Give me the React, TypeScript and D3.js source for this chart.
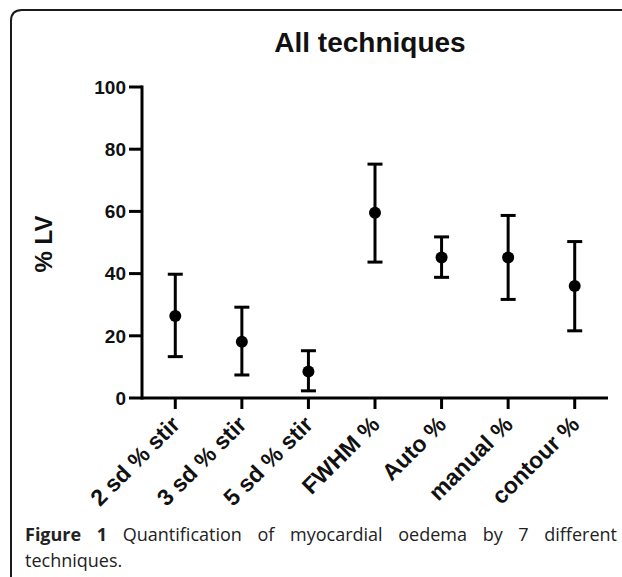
import React, { useLayoutEffect, useRef } from "react";
import * as d3 from "d3";

const categories = ["2 sd % stir", "3 sd % stir", "5 sd % stir", "FWHM %", "Auto %", "manual %", "contour %"];
const means = [26.4, 18.1, 8.5, 59.6, 45.2, 45.2, 36.0];
const upper = [39.8, 29.2, 15.2, 75.2, 51.8, 58.7, 50.3];
const lower = [13.3, 7.4, 2.3, 43.7, 38.8, 31.7, 21.6];
const yTicks = [0, 20, 40, 60, 80, 100];
const title = "All techniques";
const yLabel = "% LV";
const captionBold = "Figure 1";
const captionLine1 = " Quantification of myocardial oedema by 7 different";
const captionLine2 = "techniques.";

const W = 622;
const H = 577;

export default function App() {
  const capRef = useRef<SVGTextElement>(null);

  const x = d3.scaleBand<string>().domain(categories).range([142, 608]);
  const y = d3.scaleLinear().domain([0, 100]).range([398, 87]);
  const cx = (c: string) => (x(c) as number) + x.bandwidth() / 2;

  useLayoutEffect(() => {
    const el = capRef.current;
    if (!el) return;
    el.setAttribute("word-spacing", "0");
    const len = el.getComputedTextLength();
    const spaces = 8;
    const target = 617 - 25;
    el.setAttribute("word-spacing", String(Math.max(0, (target - len) / spaces)));
  }, []);

  const font = "'Liberation Sans', Arial, sans-serif";
  const capW = 7.5;

  return (
    <svg width={W} height={H} style={{ position: "absolute", left: 0, top: 0, background: "#fff" }}>
      <rect x={0} y={0} width={W} height={H} fill="#fff" />
      <path d="M11,580 L11,21 Q11,10 22,10 L625,10" fill="none" stroke="#1a1a1a" strokeWidth={2} />
      <text x={370} y={52} textAnchor="middle" fontFamily={font} fontWeight="bold" fontSize={28} fill="#111">
        {title}
      </text>
      {/* y axis */}
      <line x1={142} x2={142} y1={y(100) - 1.5} y2={y(0) + 1.5} stroke="#000" strokeWidth={3} />
      {yTicks.map((t) => (
        <g key={t}>
          <line x1={129} x2={142} y1={y(t)} y2={y(t)} stroke="#000" strokeWidth={3} />
          <text x={126} y={y(t)} dy="0.36em" textAnchor="end" fontFamily={font} fontWeight="bold" fontSize={19} fill="#111">
            {t}
          </text>
        </g>
      ))}
      <text
        transform={`translate(52,244) rotate(-90)`}
        textAnchor="middle"
        fontFamily={font}
        fontWeight="bold"
        fontSize={24}
        fill="#111"
      >
        {yLabel}
      </text>
      {/* x axis */}
      <line x1={142} x2={608} y1={y(0)} y2={y(0)} stroke="#000" strokeWidth={3} />
      {categories.map((c) => (
        <g key={c}>
          <line x1={cx(c)} x2={cx(c)} y1={y(0)} y2={y(0) + 11} stroke="#000" strokeWidth={3} />
          <text
            transform={`translate(${cx(c) + 6},${y(0) + 28}) rotate(-45)`}
            textAnchor="end"
            fontFamily={font}
            fontWeight="bold"
            fontSize={23}
            fill="#111"
          >
            {c}
          </text>
        </g>
      ))}
      {/* error bars */}
      {categories.map((c, i) => (
        <g key={"e" + c} stroke="#000" strokeWidth={3}>
          <line x1={cx(c)} x2={cx(c)} y1={y(upper[i])} y2={y(lower[i])} />
          <line x1={cx(c) - capW} x2={cx(c) + capW} y1={y(upper[i])} y2={y(upper[i])} />
          <line x1={cx(c) - capW} x2={cx(c) + capW} y1={y(lower[i])} y2={y(lower[i])} />
          <circle cx={cx(c)} cy={y(means[i])} r={6} fill="#000" stroke="none" />
        </g>
      ))}
      {/* caption */}
      <text ref={capRef} x={25} y={541} fontFamily="'Open Sans', sans-serif" fontSize={18} fill="#222">
        <tspan fontWeight="bold">{captionBold}</tspan>
        <tspan>{captionLine1}</tspan>
      </text>
      <text x={25} y={567} fontFamily="'Open Sans', sans-serif" fontSize={18} fill="#222">
        {captionLine2}
      </text>
    </svg>
  );
}
